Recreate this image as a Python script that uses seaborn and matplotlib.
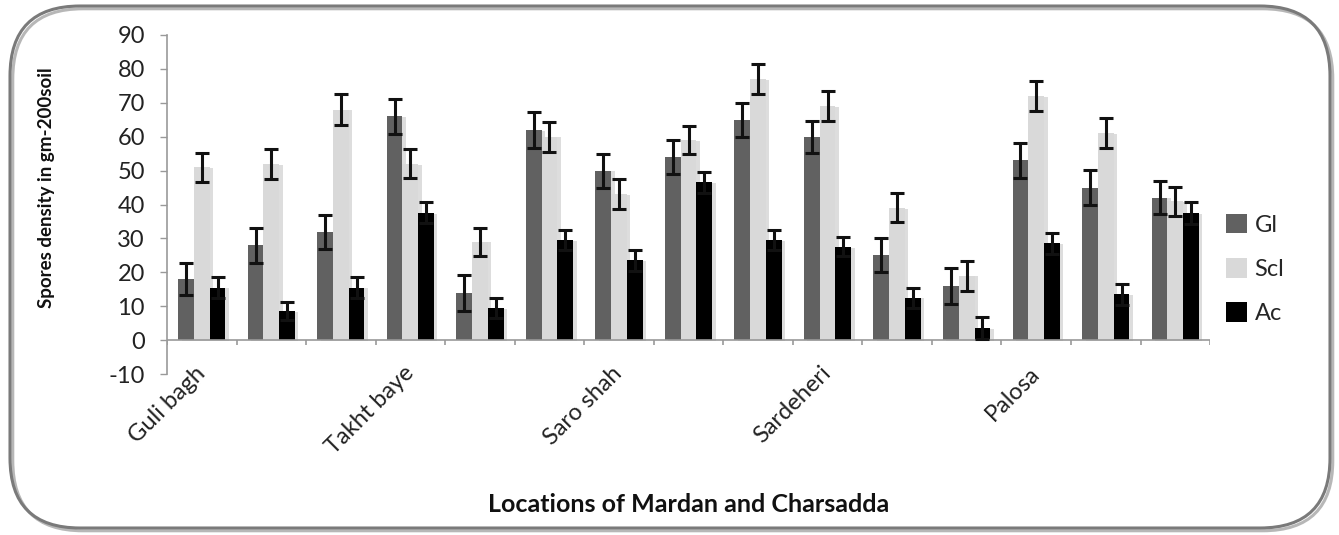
import numpy as np
import pandas as pd
import matplotlib
matplotlib.use("Agg")
import matplotlib.pyplot as plt
import matplotlib.patheffects as pe
from matplotlib.patches import FancyBboxPatch, Patch
import seaborn as sns

# sites along the x axis (only every third one is named on the chart)
sites = list(range(1, 16))
site_labels = ["Guli bagh", "", "", "Takht baye", "", "", "Saro shah", "", "",
               "Sardeheri", "", "", "Palosa", "", ""]
series = ["Gl", "Scl", "Ac"]

gl = [18, 28, 32, 66, 14, 62, 50, 54, 65, 60, 25, 16, 53, 45, 42]
scl = [51, 52, 68, 52, 29, 60, 43, 59, 77, 69, 39, 19, 72, 61, 41]
ac = [15.5, 8.5, 15.5, 37.5, 9.5, 29.5, 23.5, 46.5, 29.5, 27.5, 12.5, 3.5, 28.5, 13.5, 37.5]

gl_err = [4.7, 5.2, 5.0, 5.1, 5.3, 5.2, 5.0, 5.0, 5.0, 4.7, 5.0, 5.2, 5.2, 5.2, 4.9]
scl_err = [4.3, 4.4, 4.5, 4.3, 4.2, 4.4, 4.4, 4.2, 4.4, 4.4, 4.3, 4.4, 4.3, 4.4, 4.3]
ac_err = [3.0, 2.7, 3.0, 3.1, 3.0, 3.0, 3.0, 3.0, 3.0, 2.8, 3.0, 3.2, 3.2, 3.0, 3.2]

colors = {"Gl": "#616161", "Scl": "#d9d9d9", "Ac": "#000000"}

df = pd.DataFrame({
    "site": sites * 3,
    "series": ["Gl"] * 15 + ["Scl"] * 15 + ["Ac"] * 15,
    "value": gl + scl + ac,
    "err": gl_err + scl_err + ac_err,
})

sns.set_style("white")
plt.rcParams["font.family"] = ["Lato", "DejaVu Sans"]
plt.rcParams["axes.unicode_minus"] = False

fig = plt.figure(figsize=(13.39, 5.35), dpi=100)
ax = fig.add_axes([0.1247, 0.3009, 0.7790, 0.6337])

sns.barplot(data=df, x="site", y="value", hue="series", hue_order=series,
            palette=colors, width=0.68, errorbar=None, saturation=1,
            linewidth=0, ax=ax, legend=False)

# soft shadow to the right of each bar, like the original
shadow = [pe.SimplePatchShadow(offset=(2.5, -0.5), shadow_rgbFace="#666666", alpha=0.22), pe.Normal()]
for cont, name in zip(ax.containers, series):
    errs = df.loc[df["series"] == name, "err"].to_numpy()
    xs, ys = [], []
    for bar in cont:
        bar.set_path_effects(shadow)
        xs.append(bar.get_x() + bar.get_width() / 2)
        ys.append(bar.get_height())
    ax.errorbar(xs, ys, yerr=errs, fmt="none", ecolor="#111111",
                elinewidth=2.2, capsize=5, capthick=2.2, zorder=5)

ax.set_ylim(-10, 90)
ax.set_xlim(-0.5, len(sites) - 0.5)
ax.set_yticks(np.arange(-10, 91, 10))
ax.tick_params(axis="y", labelsize=17, length=5, width=1, color="#999999",
               direction="out", left=True, pad=11, labelcolor="#222222")

# x axis line at zero, with tick marks between the sites
ax.axhline(0, color="#999999", lw=1.2, zorder=1)
bounds = np.arange(-0.5, len(sites), 1.0)
ax.vlines(bounds, -1.4, 0, color="#999999", lw=1.2)

ax.set_xticks(range(len(sites)))
ax.set_xticklabels(site_labels, rotation=45, ha="right", va="center",
                   rotation_mode="anchor", fontsize=17, color="#222222")
ax.tick_params(axis="x", length=0, pad=-3)

for s in ["top", "right", "bottom"]:
    ax.spines[s].set_visible(False)
ax.spines["left"].set_color("#999999")
ax.spines["left"].set_linewidth(1.2)

ax.set_ylabel("Spores density in gm-200soil", fontsize=13.5, fontweight="bold", color="#111111")
ax.yaxis.set_label_coords(-0.107, 0.55)
ax.set_xlabel("Locations of Mardan and Charsadda", fontsize=18, fontweight="bold", color="#111111")
ax.xaxis.set_label_coords(0.5, -0.35)

handles = [Patch(facecolor=colors[n], edgecolor="none") for n in series]
ax.legend(handles, series, loc="center left", bbox_to_anchor=(0.995, 0.31),
          frameon=False, fontsize=17, handlelength=0.9, handleheight=0.9,
          handletextpad=0.3, labelspacing=0.95)

# rounded frame around the whole chart
frame = FancyBboxPatch((0.10, 0.07), 13.2, 5.22, boxstyle="round,pad=0,rounding_size=0.7",
                       transform=fig.dpi_scale_trans, facecolor="none",
                       edgecolor="#7a7a7a", linewidth=2.2)
frame.set_path_effects([pe.SimpleLineShadow(offset=(2, -2), shadow_color="#888888", alpha=0.6), pe.Normal()])
fig.patches.append(frame)

fig.savefig("out.png", dpi=100)
